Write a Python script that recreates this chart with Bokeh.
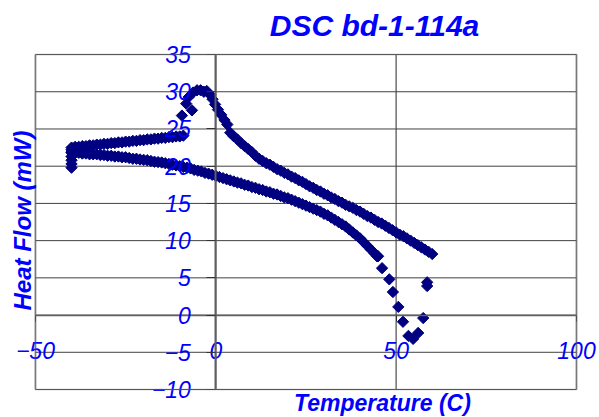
import math
from bokeh.plotting import figure
from bokeh.models import (Range1d, LinearAxis, FixedTicker, Label, ColumnDataSource, BoxAnnotation)
from bokeh.embed import file_html
from bokeh.resources import INLINE

# ---- data ----
x_ticks = [-50, 0, 50, 100]
y_ticks = [-10, -5, 0, 5, 10, 15, 20, 25, 30, 35]

# vertical start segment at about -40 C
seg_v_x = [-40, -40, -40, -40, -40, -40]
seg_v_y = [19.8, 20.3, 20.8, 21.3, 21.8, 22.2]

# upper-left branch
upper_left_x = [-40, -39, -38, -37, -36, -35, -34, -33, -32, -31, -30, -29, -28, -27, -26, -25,
                -24, -23, -22, -21, -20, -19, -18, -17, -16, -15, -14, -13, -12, -11, -10, -9]
upper_left_y = [22.5, 22.6, 22.6, 22.7, 22.7, 22.8, 22.8, 22.9, 22.9, 23.0, 23.0, 23.1, 23.1, 23.2,
                23.2, 23.3, 23.3, 23.4, 23.4, 23.5, 23.5, 23.6, 23.6, 23.7, 23.7, 23.8, 23.8, 23.9,
                23.9, 24.0, 24.0, 24.1]

# peak region (sparse points)
peak_x = [-9.4, -6.6, -8.2, -7.5, -6.3, -5.2, -4.2, -3.3, -2.5, -1.6, -0.9, -0.2, 0.6, 1.5, 2.4, 3.2]
peak_y = [26.8, 27.5, 28.4, 29.3, 29.9, 30.2, 30.2, 30.0, 30.1, 29.6, 29.0, 28.3, 27.6, 26.9, 26.2, 25.6]

# upper-right branch
upper_right_x = [4, 5, 6, 7, 8, 9, 10, 11, 12, 13, 14, 15, 16, 17, 18, 19, 20, 21, 22, 23, 24, 25,
                 26, 27, 28, 29, 30, 31, 32, 33, 34, 35, 36, 37, 38, 39, 40, 41, 42, 43, 44, 45, 46,
                 47, 48, 49, 50, 51, 52, 53, 54, 55, 56, 57, 58, 59, 60]
upper_right_y = [24.5, 24.0, 23.6, 23.1, 22.7, 22.3, 21.9, 21.4, 21.0, 20.7, 20.4, 20.2, 19.9, 19.6,
                 19.4, 19.1, 18.9, 18.6, 18.4, 18.1, 17.9, 17.6, 17.3, 17.1, 16.8, 16.6, 16.3, 16.1,
                 15.8, 15.6, 15.3, 15.1, 14.8, 14.6, 14.4, 14.1, 13.9, 13.6, 13.3, 13.1, 12.8, 12.5,
                 12.3, 12.0, 11.7, 11.4, 11.1, 10.8, 10.6, 10.3, 10.0, 9.7, 9.4, 9.1, 8.8, 8.5, 8.2]

# lower branch
lower_x = [-40, -39, -38, -37, -36, -35, -34, -33, -32, -31, -30, -29, -28, -27, -26, -25, -24, -23,
           -22, -21, -20, -19, -18, -17, -16, -15, -14, -13, -12, -11, -10, -9, -8, -7, -6, -5, -4,
           -3, -2, -1, 0, 1, 2, 3, 4, 5, 6, 7, 8, 9, 10, 11, 12, 13, 14, 15, 16, 17, 18, 19, 20, 21,
           22, 23, 24, 25, 26, 27, 28, 29, 30, 31, 32, 33, 34, 35, 36, 37, 38, 39, 40, 41, 42, 43,
           44, 45]
lower_y = [21.9, 21.8, 21.8, 21.7, 21.7, 21.6, 21.6, 21.6, 21.5, 21.5, 21.4, 21.4, 21.3, 21.3, 21.2,
           21.2, 21.1, 21.0, 21.0, 20.9, 20.85, 20.8, 20.7, 20.6, 20.55, 20.5, 20.4, 20.3, 20.2, 20.1,
           20.0, 19.9, 19.8, 19.7, 19.5, 19.4, 19.3, 19.1, 19.0, 18.85, 18.7, 18.55, 18.4, 18.25,
           18.1, 17.95, 17.8, 17.7, 17.5, 17.4, 17.2, 17.1, 16.9, 16.8, 16.6, 16.5, 16.3, 16.2, 16.0,
           15.8, 15.7, 15.5, 15.3, 15.1, 14.9, 14.7, 14.5, 14.3, 14.1, 13.9, 13.6, 13.4, 13.1, 12.8,
           12.5, 12.2, 11.9, 11.5, 11.1, 10.7, 10.3, 9.8, 9.3, 8.8, 8.3, 7.9]

# melting dip (sparse points)
dip_x = [44.7, 46.1, 48.1, 49.1, 50.6, 51.9, 53.4, 54.7, 56.1, 57.5, 58.6, 58.6]
dip_y = [7.9, 6.3, 4.8, 3.1, 1.1, -0.9, -2.8, -3.2, -2.4, -0.4, 3.9, 4.4]

temp = seg_v_x + upper_left_x + peak_x + upper_right_x + lower_x + dip_x
heat = seg_v_y + upper_left_y + peak_y + upper_right_y + lower_y + dip_y

X_MIN, X_MAX = -50, 100
Y_MIN, Y_MAX = -10, 35

BLUE = "#0000ff"
NAVY = "#000080"

# the frame covers the whole canvas; the plot area is the box [-50,100] x [-10,35]
p = figure(width=599, height=417, x_range=Range1d(-59.69, 106.38), y_range=Range1d(-13.76, 42.26),
           output_backend="svg", toolbar_location=None,
           x_axis_location=None, y_axis_location=None,
           min_border_left=0, min_border_right=0, min_border_top=0, min_border_bottom=0)
p.background_fill_color = "white"
p.border_fill_color = "white"
p.outline_line_color = None
p.grid.visible = False

# grid lines inside the plot area
p.segment(x0=x_ticks, y0=[Y_MIN] * len(x_ticks), x1=x_ticks, y1=[Y_MAX] * len(x_ticks),
          line_color="#707070", line_width=1.5)
p.segment(x0=[X_MIN] * len(y_ticks), y0=y_ticks, x1=[X_MAX] * len(y_ticks), y1=y_ticks,
          line_color="#404040", line_width=1)

# plot area border
p.add_layout(BoxAnnotation(left=X_MIN, right=X_MAX, bottom=Y_MIN, top=Y_MAX,
                           fill_alpha=0, line_color="#8c8c8c", line_width=2))

xt = FixedTicker(ticks=x_ticks, minor_ticks=[])
yt = FixedTicker(ticks=y_ticks, minor_ticks=[])

xaxis = LinearAxis(fixed_location=0, ticker=xt, bounds=(X_MIN, X_MAX))
xaxis.axis_line_color = "#606060"
xaxis.axis_line_width = 1.5
xaxis.major_tick_out = 6
xaxis.major_tick_in = 0
xaxis.major_tick_line_color = "#333333"
xaxis.major_label_standoff = 21
xaxis.major_label_text_font = "Liberation Sans"
xaxis.major_label_text_font_style = "italic"
xaxis.major_label_text_font_size = "23px"
xaxis.major_label_text_color = BLUE
p.add_layout(xaxis, "below")

yaxis = LinearAxis(fixed_location=0, ticker=yt, bounds=(Y_MIN, Y_MAX))
yaxis.axis_line_color = "#606060"
yaxis.axis_line_width = 2
yaxis.major_tick_out = 9
yaxis.major_tick_in = 0
yaxis.major_tick_line_color = "#333333"
yaxis.major_label_standoff = 16
yaxis.major_label_text_font = "Liberation Sans"
yaxis.major_label_text_font_style = "italic"
yaxis.major_label_text_font_size = "23px"
yaxis.major_label_text_color = BLUE
p.add_layout(yaxis, "left")

src = ColumnDataSource(data=dict(x=temp, y=heat))
p.scatter("x", "y", source=src, marker="square", angle=math.pi / 4, size=8,
          fill_color=NAVY, line_color=NAVY)

p.add_layout(Label(x=44.0, y=38.9, text="DSC bd-1-114a", text_align="center",
                   text_baseline="middle", text_font="Liberation Sans",
                   text_font_style="bold italic", text_font_size="30px", text_color=BLUE))
p.add_layout(Label(x=46.2, y=-11.85, text="Temperature (C)", text_align="center",
                   text_baseline="middle", text_font="Liberation Sans",
                   text_font_style="bold italic", text_font_size="23px", text_color=BLUE))
p.add_layout(Label(x=-53.6, y=12.7, text="Heat Flow (mW)", text_align="center",
                   text_baseline="middle", angle=math.pi / 2, text_font="Liberation Sans",
                   text_font_style="bold italic", text_font_size="24px", text_color=BLUE))

open("out.html", "w").write(file_html(p, INLINE))
